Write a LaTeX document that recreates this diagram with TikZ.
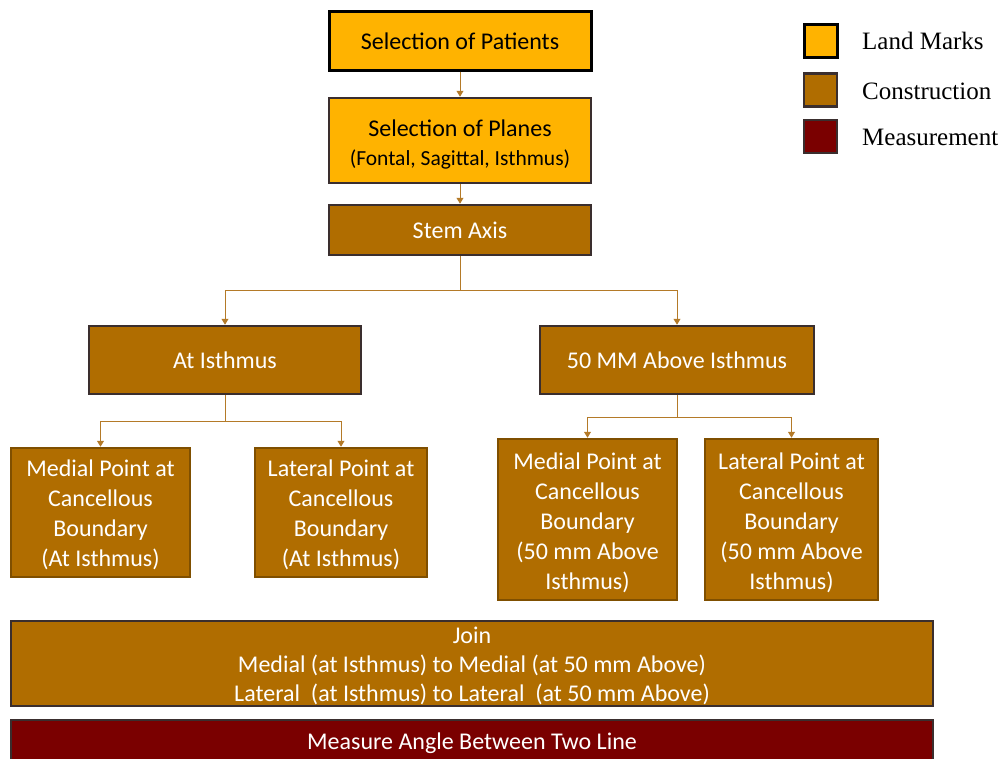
\documentclass[tikz,border=0pt]{standalone}
\usepackage{fontspec}
\setmainfont{Carlito}
\newfontfamily\legfont{Liberation Serif}
\usetikzlibrary{arrows.meta}
\definecolor{amber}{HTML}{FFB300}
\definecolor{brownc}{HTML}{B06D00}
\definecolor{maroonc}{HTML}{7A0000}
\definecolor{edgec}{HTML}{3A2E2E}
\definecolor{boxedge}{HTML}{7F4F00}
\definecolor{linec}{HTML}{B47A28}
\newcommand{\upstrut}[1]{\rule{0pt}{#1pt}}
\begin{document}
\begin{tikzpicture}[x=1pt,y=-1pt,
  base/.style={rectangle, inner sep=0pt, align=center, line width=2.5pt, draw=edgec},
  land/.style={base, fill=amber, text=black},
  cons/.style={base, fill=brownc, text=white},
  meas/.style={base, fill=maroonc, text=white},
  leaf/.style={cons, draw=boxedge},
  big/.style={font=\fontsize{24}{30}\selectfont},
  mid/.style={font=\fontsize{24}{29}\selectfont},
  conn/.style={draw=linec, line width=1pt, -{Triangle[width=7pt,length=6pt]}},
  legbox/.style={base, minimum width=33pt, minimum height=33pt},
  legtext/.style={anchor=west, inner sep=0pt, font=\legfont\fontsize{25}{28}\selectfont}
]
\useasboundingbox (0,0) rectangle (1008,758);
\clip (0,0) rectangle (1008,758);

% top chain
\node[land, big, draw=black, line width=3pt, minimum width=262pt, minimum height=59pt] (pat) at (460,40.5) {\upstrut{19}Selection of Patients};
\node[land, font=\fontsize{24}{29}\selectfont, minimum width=262pt, minimum height=85pt] (pla) at (460,140.5)
  {\upstrut{25}Selection of Planes\\{\fontsize{21.5}{29}\selectfont (Fontal, Sagittal, Isthmus)}};
\node[cons, big, minimum width=262pt, minimum height=50pt] (stem) at (460,230) {Stem Axis};

% second level
\node[cons, big, minimum width=272pt, minimum height=68pt] (ati) at (225,360) {At Isthmus};
\node[cons, big, minimum width=274pt, minimum height=68pt] (abv) at (677,360) {50 MM Above Isthmus};

% leaves
\node[leaf, big, minimum width=179pt, minimum height=129pt] (ml) at (100.5,512.5) {\upstrut{21}Medial Point at\\Cancellous\\Boundary\\(At Isthmus)};
\node[leaf, big, minimum width=172pt, minimum height=129pt] (ll) at (341,512.5) {\upstrut{21}Lateral Point at\\Cancellous\\Boundary\\(At Isthmus)};
\node[leaf, big, minimum width=179pt, minimum height=161pt] (mr) at (587.5,519.5) {\upstrut{23}Medial Point at\\Cancellous\\Boundary\\(50 mm Above\\Isthmus)};
\node[leaf, big, minimum width=173pt, minimum height=161pt] (lr) at (791.5,519.5) {\upstrut{23}Lateral Point at\\Cancellous\\Boundary\\(50 mm Above\\Isthmus)};

% bottom bars
\node[cons, mid, minimum width=922pt, minimum height=85pt] (join) at (472,663.5)
  {\upstrut{21}Join\\Medial (at Isthmus) to Medial (at 50 mm Above)\\Lateral\ \ (at Isthmus) to Lateral\ \ (at 50 mm Above)};
\node[meas, mid, minimum width=922pt, minimum height=60pt, text depth=18pt] (msr) at (472,750) {Measure Angle Between Two Line};

% connectors
\draw[conn] (pat.south) -- (pla.north);
\draw[conn] (pla.south) -- (stem.north);
\draw[conn] (stem.south) -- ++(0,34) -| (ati.north);
\draw[conn] (stem.south) -- ++(0,34) -| (abv.north);
\draw[conn] (ati.south) -- ++(0,26) -| (ml.north);
\draw[conn] (ati.south) -- ++(0,26) -| (ll.north);
\draw[conn] (abv.south) -- ++(0,22) -| (mr.north);
\draw[conn] (abv.south) -- ++(0,22) -| (lr.north);

% legend
\node[legbox, fill=amber, draw=black, line width=3pt] (lg1) at (820.5,40.5) {};
\node[legbox, fill=brownc] (lg2) at (820.5,90) {};
\node[legbox, fill=maroonc] (lg3) at (820.5,136.5) {};
\node[legtext] (lt1) at (862,41) {Land Marks};
\node[legtext] (lt2) at (862,91) {Construction};
\node[legtext] (lt3) at (862,137) {Measurement};
\end{tikzpicture}
\end{document}
